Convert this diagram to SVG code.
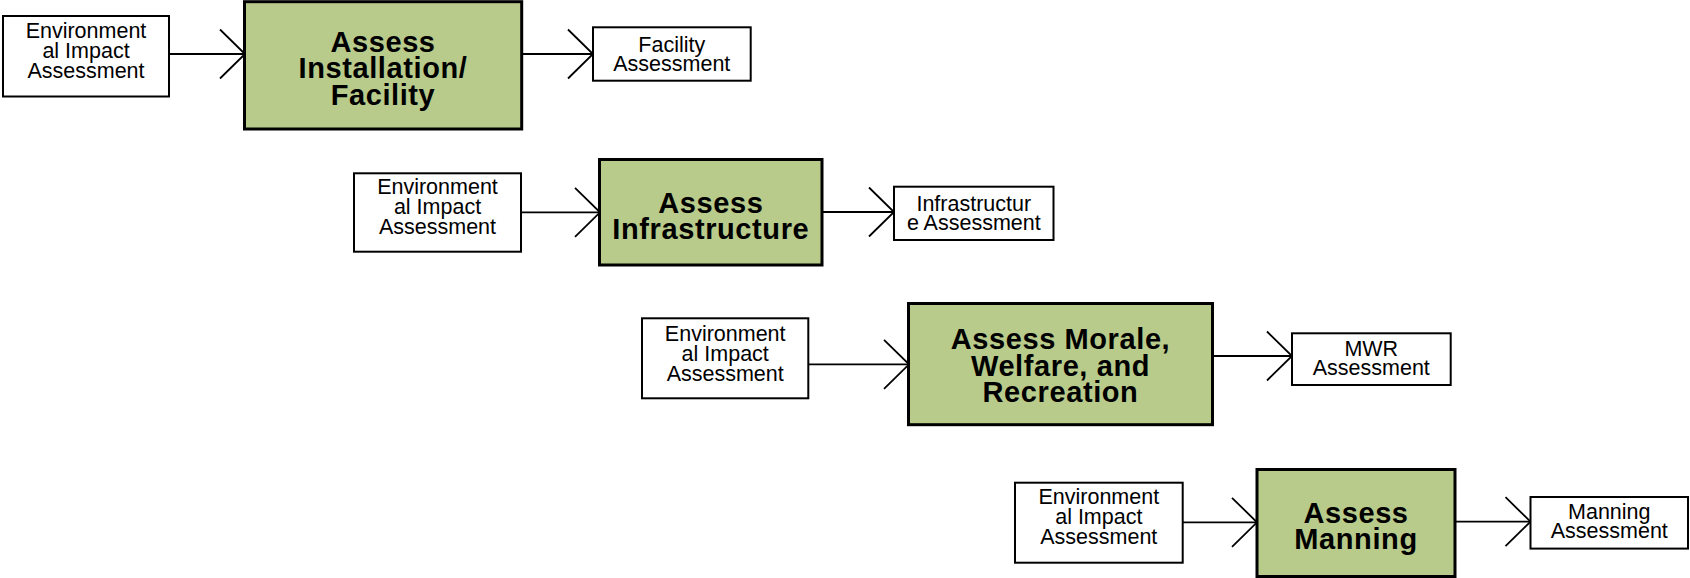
<svg xmlns="http://www.w3.org/2000/svg" width="1690" height="578" viewBox="0 0 1690 578">
<style>
.box{fill:#ffffff;stroke:#000000;stroke-width:2}
.main{fill:#b8cb8a;stroke:#000000;stroke-width:3}
.t{font-family:"Liberation Sans",Arial,sans-serif;font-size:21.5px;fill:#000000;text-anchor:middle}
.b{font-family:"Liberation Sans",Arial,sans-serif;font-size:29px;letter-spacing:0.6px;font-weight:bold;fill:#000000;text-anchor:middle}
.c{fill:none;stroke:#000000;stroke-width:1.8}
</style>
<defs>
<marker id="chev" markerUnits="userSpaceOnUse" markerWidth="30" markerHeight="54" refX="27" refY="26" orient="auto">
<path d="M 2 1.5 L 27 26 L 2 50.5" fill="none" stroke="#000000" stroke-width="1.8"/>
</marker>
</defs>
<rect width="1690" height="578" fill="#ffffff"/>

<g id="connectors">
<line class="c" x1="169" y1="54" x2="245" y2="54" marker-end="url(#chev)"/>
<line class="c" x1="522" y1="54" x2="593" y2="54" marker-end="url(#chev)"/>
<line class="c" x1="521" y1="212.3" x2="600" y2="212.3" marker-end="url(#chev)"/>
<line class="c" x1="822" y1="212" x2="894" y2="212" marker-end="url(#chev)"/>
<line class="c" x1="808" y1="364.3" x2="909" y2="364.3" marker-end="url(#chev)"/>
<line class="c" x1="1212.5" y1="356" x2="1292" y2="356" marker-end="url(#chev)"/>
<line class="c" x1="1182" y1="522.3" x2="1257" y2="522.3" marker-end="url(#chev)"/>
<line class="c" x1="1455" y1="521.7" x2="1530.5" y2="521.7" marker-end="url(#chev)"/>
</g>

<g id="env1">
<rect class="box" x="3" y="16" width="166" height="80.5"/>
<text class="t"><tspan x="86" y="38">Environment</tspan><tspan x="86" y="57.8">al Impact</tspan><tspan x="86" y="77.6">Assessment</tspan></text>
</g>
<g id="assess1">
<rect class="main" x="244.5" y="1.7" width="277.2" height="127.3"/>
<text class="b"><tspan x="383" y="52">Assess</tspan><tspan x="383" y="78.3">Installation/</tspan><tspan x="383" y="104.6">Facility</tspan></text>
</g>
<g id="out1">
<rect class="box" x="593" y="27.3" width="157.7" height="53.4"/>
<text class="t"><tspan x="671.8" y="51.7">Facility</tspan><tspan x="671.8" y="70.7">Assessment</tspan></text>
</g>

<g id="env2">
<rect class="box" x="354" y="173.3" width="167" height="78.4"/>
<text class="t"><tspan x="437.5" y="194.3">Environment</tspan><tspan x="437.5" y="214.2">al Impact</tspan><tspan x="437.5" y="234">Assessment</tspan></text>
</g>
<g id="assess2">
<rect class="main" x="599.5" y="159.5" width="222.5" height="105.5"/>
<text class="b"><tspan x="710.8" y="213">Assess</tspan><tspan x="710.8" y="239.3">Infrastructure</tspan></text>
</g>
<g id="out2">
<rect class="box" x="894" y="186.7" width="159.5" height="53.3"/>
<text class="t"><tspan x="973.8" y="210.7">Infrastructur</tspan><tspan x="973.8" y="229.5">e Assessment</tspan></text>
</g>

<g id="env3">
<rect class="box" x="642" y="318.3" width="166.3" height="80"/>
<text class="t"><tspan x="725.2" y="340.7">Environment</tspan><tspan x="725.2" y="360.6">al Impact</tspan><tspan x="725.2" y="380.5">Assessment</tspan></text>
</g>
<g id="assess3">
<rect class="main" x="908.5" y="303.5" width="304" height="121.2"/>
<text class="b"><tspan x="1060.5" y="349">Assess Morale,</tspan><tspan x="1060.5" y="375.5">Welfare, and</tspan><tspan x="1060.5" y="402">Recreation</tspan></text>
</g>
<g id="out3">
<rect class="box" x="1292" y="333.3" width="158.7" height="51.7"/>
<text class="t"><tspan x="1371.3" y="355.5">MWR</tspan><tspan x="1371.3" y="374.5">Assessment</tspan></text>
</g>

<g id="env4">
<rect class="box" x="1015" y="482.7" width="167.7" height="80"/>
<text class="t"><tspan x="1098.8" y="504.3">Environment</tspan><tspan x="1098.8" y="524.2">al Impact</tspan><tspan x="1098.8" y="544">Assessment</tspan></text>
</g>
<g id="assess4">
<rect class="main" x="1257" y="469.5" width="198" height="107"/>
<text class="b"><tspan x="1356" y="522.5">Assess</tspan><tspan x="1356" y="548.8">Manning</tspan></text>
</g>
<g id="out4">
<rect class="box" x="1530.5" y="497" width="157.5" height="51.6"/>
<text class="t"><tspan x="1609.3" y="519">Manning</tspan><tspan x="1609.3" y="537.5">Assessment</tspan></text>
</g>
</svg>
